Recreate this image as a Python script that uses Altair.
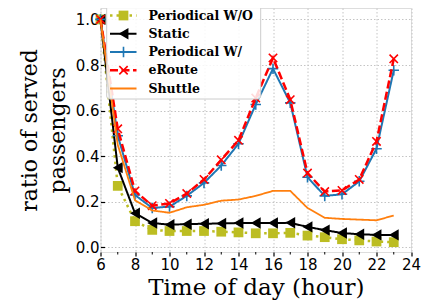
import altair as alt
import pandas as pd

hours = list(range(6, 24))
series_names = ["Periodical W/O", "Static", "Periodical W/", "eRoute", "Shuttle"]

periodical_wo = [1.0, 0.27, 0.115, 0.077, 0.072, 0.072, 0.072, 0.069, 0.066, 0.062,
                 0.062, 0.064, 0.052, 0.045, 0.036, 0.031, 0.026, 0.023]
static = [1.0, 0.35, 0.15, 0.107, 0.10, 0.102, 0.104, 0.105, 0.107, 0.107,
          0.107, 0.108, 0.09, 0.076, 0.063, 0.058, 0.055, 0.055]
periodical_w = [1.0, 0.49, 0.23, 0.173, 0.179, 0.226, 0.283, 0.359, 0.455, 0.627,
                0.784, 0.634, 0.308, 0.226, 0.233, 0.29, 0.433, 0.777]
eroute = [1.0, 0.52, 0.248, 0.183, 0.193, 0.236, 0.298, 0.384, 0.47, 0.655,
          0.831, 0.648, 0.326, 0.245, 0.25, 0.298, 0.465, 0.827]
shuttle = [1.0, 0.45, 0.207, 0.162, 0.152, 0.176, 0.187, 0.205, 0.21, 0.226,
           0.248, 0.248, 0.173, 0.13, 0.125, 0.122, 0.119, 0.14]

values = [periodical_wo, static, periodical_w, eroute, shuttle]
x_ticks = list(range(6, 25, 2))
x_minor = list(range(7, 24, 2))
y_ticks = [0.0, 0.2, 0.4, 0.6, 0.8, 1.0]

colors = ["#bcbd22", "#000000", "#1f77b4", "#ff0000", "#ff7f0e"]
dashes = [[2.5, 4], [1, 0], [1, 0], [8, 3.5], [1, 0]]
widths = [2.5, 2, 2, 2.5, 1.8]
PLUS = "M-1,0H1M0,-1V1"
XSHAPE = "M-1,-1L1,1M-1,1L1,-1"
shapes = ["square", "triangle-left", PLUS, XSHAPE, None]
filled = [True, True, False, False, False]
msizes = [95, 130, 110, 70, 0]

W, H = 310.5, 244
xs = alt.Scale(domain=[6, 24], nice=False)
ys = alt.Scale(domain=[-0.02, 1.05], nice=False, zero=False)

GRID = "#c4c4c4"
main_x_axis = alt.Axis(values=x_ticks, title="Time of day (hour)", grid=True,
                       gridColor=GRID, gridDash=[1.5, 2], gridWidth=1,
                       tickSize=4, tickColor="black", tickWidth=1.2,
                       labelFont="DejaVu Sans", labelFontSize=15, labelColor="black",
                       labelPadding=1, labelFlush=False,
                       titleFont="DejaVu Serif", titleFontSize=23, titleFontWeight="normal",
                       titleColor="black", titlePadding=4, domain=False)
main_y_axis = alt.Axis(values=y_ticks, format=".1f",
                       title=["ratio of served", "passengers"], grid=True,
                       gridColor=GRID, gridDash=[1.5, 2], gridWidth=1,
                       tickSize=4, tickColor="black", tickWidth=1.2, offset=-4,
                       labelFont="DejaVu Sans", labelFontSize=15, labelColor="black",
                       labelPadding=1.5, labelFlush=False,
                       titleFont="DejaVu Serif", titleFontSize=22, titleFontWeight="normal",
                       titleColor="black", titlePadding=6, titleLineHeight=28, domain=False)

XE = alt.X("hour:Q", scale=xs, axis=main_x_axis)
YE = alt.Y("value:Q", scale=ys, axis=main_y_axis)

layers = []
for i, name in enumerate(series_names):
    df = pd.DataFrame({"hour": hours, "value": values[i], "series": name})
    line = alt.Chart(df).mark_line(color=colors[i], strokeWidth=widths[i],
                                   strokeDash=dashes[i]).encode(x=XE, y=YE)
    layers.append(line)
    if shapes[i] is not None:
        if filled[i]:
            pts = alt.Chart(df).mark_point(shape=shapes[i], filled=True, fill=colors[i],
                                           opacity=1, size=msizes[i], strokeWidth=0)
        else:
            pts = alt.Chart(df).mark_point(shape=shapes[i], filled=False, stroke=colors[i],
                                           opacity=1, size=msizes[i], strokeWidth=1.6)
        layers.append(pts.encode(x=XE, y=YE))

# minor x ticks
minor_df = pd.DataFrame({"hour": x_minor})
minor = alt.Chart(minor_df).mark_rule(strokeWidth=1, color="black").encode(
    x=XE, y=alt.value(H), y2=alt.value(H + 2.5))
layers.append(minor)

data_group = alt.layer(*layers)

# legend
leg_df = pd.DataFrame({"row": list(range(5)), "series": series_names})
ls = alt.Scale(domain=[0, 4], range=[7.5, 80.5])
box = alt.Chart(pd.DataFrame({"a": [0]})).mark_rect(
    fill="white", fillOpacity=0.85, stroke="#cccccc", strokeWidth=1, cornerRadius=3
).encode(x=alt.value(6.2), x2=alt.value(160.2), y=alt.value(-3), y2=alt.value(91))
leg_layers = [box]
for i, name in enumerate(series_names):
    sub = leg_df[leg_df["series"] == name]
    ly = alt.Y("row:Q", scale=ls, axis=None)
    leg_layers.append(alt.Chart(sub).mark_rule(color=colors[i], strokeWidth=widths[i],
                                               strokeDash=dashes[i]).encode(
        x=alt.value(9.5), x2=alt.value(36), y=ly))
    if shapes[i] is not None:
        if filled[i]:
            p = alt.Chart(sub).mark_point(shape=shapes[i], filled=True, fill=colors[i],
                                          opacity=1, size=msizes[i], strokeWidth=0)
        else:
            p = alt.Chart(sub).mark_point(shape=shapes[i], filled=False, stroke=colors[i],
                                          opacity=1, size=msizes[i], strokeWidth=1.6)
        leg_layers.append(p.encode(x=alt.value(23), y=ly))
leg_layers.append(alt.Chart(leg_df).mark_text(
    align="left", baseline="middle", font="DejaVu Serif", fontWeight="bold",
    fontSize=12.5, color="black").encode(x=alt.value(48), y=alt.Y("row:Q", scale=ls, axis=None),
                                         text="series:N"))
legend_group = alt.layer(*leg_layers)

chart = alt.layer(data_group, legend_group).resolve_scale(y="independent").properties(
    width=W, height=H,
    autosize=alt.AutoSizeParams(type="none"),
    padding={"left": 92.5, "top": 0, "right": 22, "bottom": 49},
).configure_view(stroke="black", strokeWidth=1.2).configure(background="white")

chart.save("out.html", embed_options={"renderer": "svg", "actions": False})
